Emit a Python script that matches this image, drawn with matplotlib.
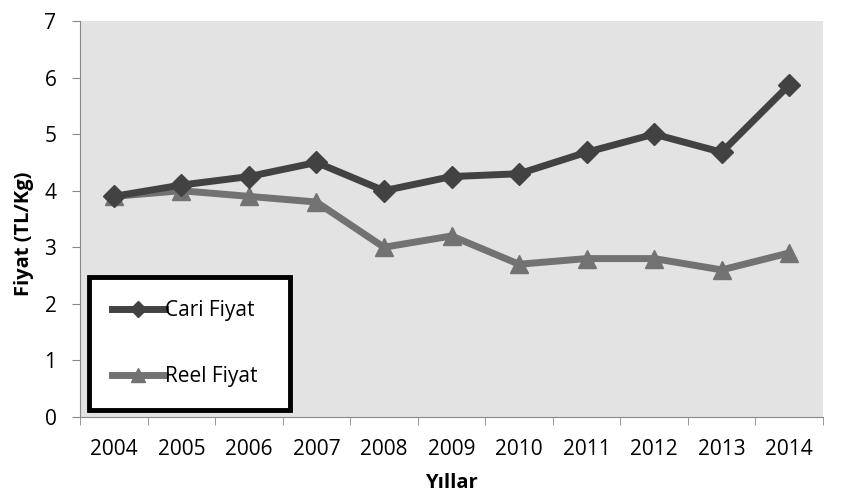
import matplotlib
matplotlib.use('Agg')
import matplotlib.pyplot as plt
import numpy as np

plt.rcParams['font.family'] = ['Open Sans', 'DejaVu Sans']

years = ['2004', '2005', '2006', '2007', '2008', '2009', '2010', '2011', '2012', '2013', '2014']
cari = [3.9, 4.1, 4.25, 4.5, 4.0, 4.25, 4.3, 4.68, 5.0, 4.68, 5.87]
reel = [3.9, 4.0, 3.9, 3.8, 3.0, 3.2, 2.7, 2.8, 2.8, 2.6, 2.9]

fig = plt.figure(figsize=(8.43, 4.98), dpi=100)
ax = fig.add_axes([0.0949, 0.1627, 0.8814, 0.7951])
ax.set_facecolor('#e3e3e3')

x = np.arange(len(years))
ax.plot(x, cari, color='#424242', lw=5, marker='D', markersize=11, label='Cari Fiyat', zorder=3)
ax.plot(x, reel, color='#727272', lw=5, marker='^', markersize=13, label='Reel Fiyat', zorder=2)

ax.set_xlim(-0.5, len(years) - 0.5)
ax.set_ylim(0, 7)
ax.set_xticks(x)
ax.set_xticklabels(years)
ax.set_xticks(np.arange(-0.5, len(years)), minor=True)
ax.tick_params(axis='x', which='major', length=0, pad=16, labelsize=15)
ax.tick_params(axis='x', which='minor', length=6, color='#888888')
ax.set_yticks(range(8))
ax.tick_params(axis='y', length=6, color='#888888', labelsize=15, pad=11)

for s in ['top', 'right']:
    ax.spines[s].set_visible(False)
for s in ['left', 'bottom']:
    ax.spines[s].set_color('#888888')

ax.set_ylabel('Fiyat (TL/Kg)', fontsize=14.5, fontweight='bold')
ax.yaxis.set_label_coords(-0.062, 0.462)
ax.set_xlabel('Yıllar', fontsize=14.5, fontweight='bold')
ax.xaxis.set_label_coords(0.5, -0.142)

leg = ax.legend(loc='lower left', bbox_to_anchor=(0.012, 0.018, 0.2705, 0.3), mode='expand',
                borderaxespad=0, fontsize=15, handlelength=2.55, handletextpad=0.0,
                labelspacing=2.15, borderpad=1.1, fancybox=False, framealpha=1,
                edgecolor='black', markerscale=0.75)
leg.get_frame().set_linewidth(3.5)

fig.savefig('out.png', dpi=100)
